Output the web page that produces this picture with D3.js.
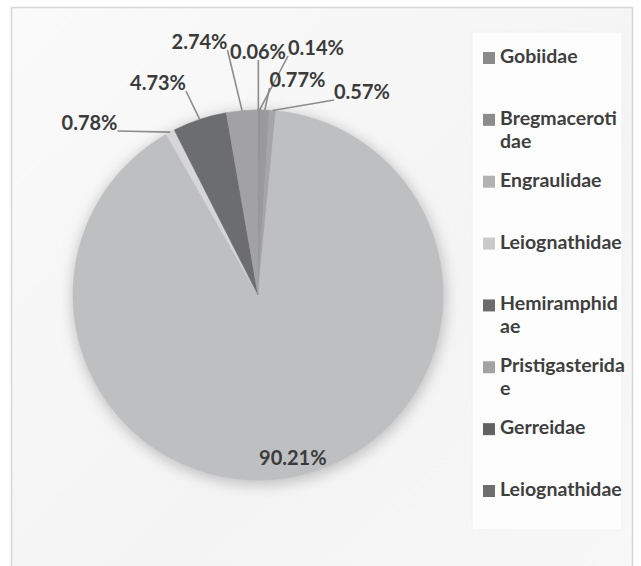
<!DOCTYPE html>
<html>
<head>
<meta charset="utf-8">
<script src="https://cdn.jsdelivr.net/npm/d3@7"></script>
<style>
  html, body { margin: 0; padding: 0; background: #ffffff; }
  svg { display: block; }
</style>
</head>
<body>
<svg id="chart" width="641" height="566"></svg>
<script>
// ---- data ----
const categories = ["Gobiidae", "Bregmacerotidae", "Engraulidae", "Leiognathidae",
                    "Hemiramphidae", "Pristigasteridae", "Gerreidae", "Leiognathidae"];
const values = [0.06, 0.14, 0.77, 0.57, 90.21, 0.78, 4.73, 2.74];
const valueLabels = ["0.06%", "0.14%", "0.77%", "0.57%", "90.21%", "0.78%", "4.73%", "2.74%"];

// ---- styles / layout ----
const sliceColors  = ["#5e5e60", "#909092", "#9a9a9c", "#a6a6a8", "#bdbfc1", "#d6d6d8", "#6c6d6f", "#a2a2a4"];
const legendColors = ["#8a8a8a", "#8c8c8c", "#b2b2b2", "#cacaca", "#6c6c6c", "#a3a3a3", "#626262", "#6e6e6e"];
// manually placed label centres relative to the pie centre (null = inside-end)
const labelOffsets = [[0, -243], [58, -247], [39.5, -215], [104, -203], null, [-168.5, -172], [-100, -212], [-58.5, -253]];
// where the original legend wraps each name (character index, null = no wrap)
const legendWrapAt = [null, 12, null, null, 11, 15, null, null];

const W = 641, H = 566;
const cx = 258, cy = 295, R = 185;
const svg = d3.select("#chart");

const defs = svg.append("defs");
const f = defs.append("filter").attr("id", "shadow").attr("x", "-30%").attr("y", "-30%").attr("width", "160%").attr("height", "160%");
f.append("feGaussianBlur").attr("stdDeviation", 7);

const grad = defs.append("linearGradient").attr("id", "bg").attr("x1", 0).attr("y1", 0).attr("x2", 1).attr("y2", 1);
grad.append("stop").attr("offset", "0%").attr("stop-color", "#fafafa");
grad.append("stop").attr("offset", "60%").attr("stop-color", "#f4f4f4");
grad.append("stop").attr("offset", "100%").attr("stop-color", "#f8f8f8");

// frame
svg.append("rect").attr("x", 11.5).attr("y", 7.5).attr("width", 621).attr("height", 575)
  .attr("fill", "url(#bg)").attr("stroke", "#d6d6d6").attr("stroke-width", 1.5);

// legend box
svg.append("rect").attr("x", 472).attr("y", 32).attr("width", 150).attr("height", 498)
  .attr("fill", "#fdfdfd").attr("stroke", "#f1f1f1");

// pie shadow
svg.append("circle").attr("cx", cx + 1).attr("cy", cy + 3).attr("r", R + 2)
  .attr("fill", "#8e8e8e").attr("opacity", 0.5).attr("filter", "url(#shadow)");

const pie = d3.pie().sort(null).value(d => d).startAngle(0).endAngle(2 * Math.PI);
const arcs = pie(values);
const arc = d3.arc().innerRadius(0).outerRadius(R);
const edgeArc = d3.arc().innerRadius(R).outerRadius(R);
const insideArc = d3.arc().innerRadius(R * 0.9).outerRadius(R * 0.9);

const g = svg.append("g").attr("transform", `translate(${cx},${cy})`);
g.selectAll("path.slice").data(arcs).enter().append("path")
  .attr("class", "slice")
  .attr("d", arc)
  .attr("fill", (d, i) => sliceColors[i])
  .attr("stroke", (d, i) => sliceColors[i])
  .attr("stroke-width", (d, i) => (d.endAngle - d.startAngle) < 0.01 ? 1.6 : 0.6);

// labels
const fontLab = "Lato, 'Open Sans', sans-serif";
const labG = g.append("g");
arcs.forEach((d, i) => {
  let p;
  if (labelOffsets[i]) p = labelOffsets[i];
  else p = insideArc.centroid(d);
  const t = labG.append("text")
    .attr("x", p[0]).attr("y", p[1] + 7)
    .attr("text-anchor", "middle")
    .attr("font-family", fontLab).attr("font-weight", 700).attr("font-size", 20)
    .attr("fill", "#3b3b3b")
    .text(valueLabels[i]);
  if (labelOffsets[i]) {
    const bb = t.node().getBBox();
    const target = edgeArc.centroid(d);
    const top = p[1] - 8, bot = p[1] + 8;
    const sx = Math.max(bb.x, Math.min(bb.x + bb.width, target[0]));
    const sy = Math.max(top, Math.min(bot, target[1]));
    labG.insert("line", "text")
      .attr("x1", sx).attr("y1", sy).attr("x2", target[0]).attr("y2", target[1])
      .attr("stroke", "#8c8c8c").attr("stroke-width", 1.6);
  }
});

// legend
const legY = d3.scalePoint().domain(d3.range(categories.length)).range([63, 496]);
const legX = 483, lineH = 23;
const leg = svg.append("g");
categories.forEach((name, i) => {
  const y = legY(i);
  leg.append("rect").attr("x", legX).attr("y", y - 11).attr("width", 12).attr("height", 12)
    .attr("fill", legendColors[i]);
  const t = leg.append("text")
    .attr("x", legX + 17).attr("y", y)
    .attr("font-family", fontLab).attr("font-weight", 700).attr("font-size", 19.5)
    .attr("fill", "#3f3f3f");
  const k = legendWrapAt[i];
  const lines = k ? [name.slice(0, k), name.slice(k)] : [name];
  lines.forEach((ln, j) => {
    t.append("tspan").attr("x", legX + 17).attr("y", y + j * lineH).text(ln);
  });
});
</script>
</body>
</html>
